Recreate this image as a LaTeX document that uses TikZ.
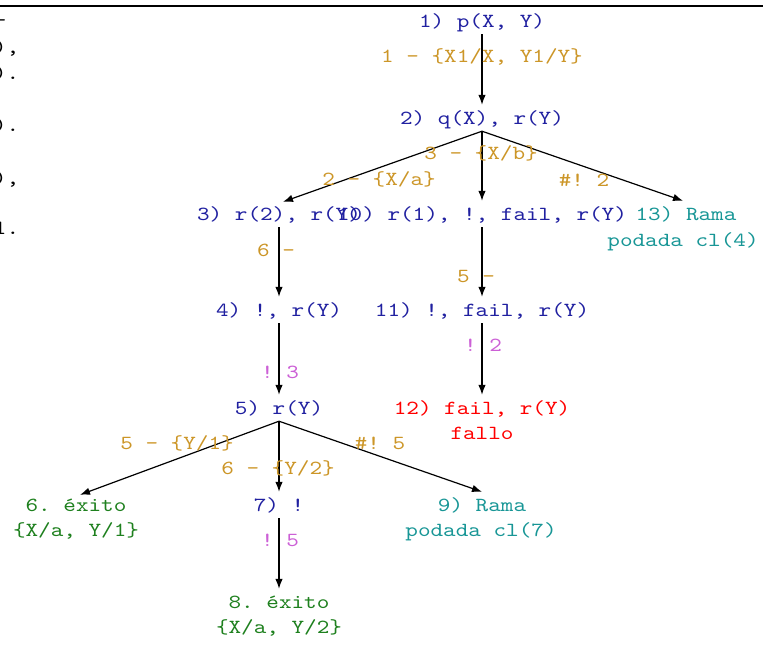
\documentclass[tikz,border=0pt]{standalone}
\usepackage{fontspec}
\setmonofont[FakeStretch=1.2]{lmmono10-regular.otf}
\usetikzlibrary{arrows.meta}

\definecolor{goalblue}{RGB}{32,32,160}
\definecolor{subst}{RGB}{204,150,40}
\definecolor{cutmark}{RGB}{204,96,214}
\definecolor{success}{RGB}{30,128,30}
\definecolor{pruned}{RGB}{24,150,150}
\definecolor{failure}{RGB}{255,0,0}

\begin{document}
\begin{tikzpicture}[x=1pt,y=-1pt,
  every node/.style={font=\ttfamily\fontsize{20}{26}\selectfont,
    inner sep=0pt, text height=12pt, text depth=0pt},
  goal/.style={text=goalblue, inner ysep=7pt},
  okleaf/.style={text=success, inner ysep=7pt},
  cutleaf/.style={text=pruned, inner ysep=7pt},
  failleaf/.style={text=failure, inner ysep=7pt},
  sublabel/.style={text=subst},
  cutlabel/.style={text=cutmark},
  edge/.style={line width=1.2pt, -{Latex[length=10pt,width=7.5pt]}},
  margin/.style={text=black, anchor=west}
]
\useasboundingbox (0,0) rectangle (763,646);

% rule across the top
\draw[line width=1.8pt] (0,6) -- (763,6);

% tail ends of text cut off by the left edge
\node[margin] (m1) at (-6.3,20) {-};
\node[margin] (m2) at (-6.3,47) {),};
\node[margin] (m3) at (-6.3,73) {).};
\node[margin] (m4) at (-6.3,125) {).};
\node[margin] (m5) at (-6.3,178) {),};
\node[margin] (m6) at (-6.3,228) {1.};

% goals of the resolution tree
\node[goal] (n1) at (482,21) {1) p(X, Y)};
\node[goal] (n2) at (482,118) {2) q(X), r(Y)};
\node[goal] (n3) at (279,214) {3) r(2), r(Y)};
\node[goal] (n10) at (482,214) {10) r(1), !, fail, r(Y)};
\node[cutleaf] (n13a) at (686,214) {13) Rama};
\node[cutleaf] (n13b) at (683,240) {podada cl(4)};
\node[goal] (n4) at (279,310) {4) !, r(Y)};
\node[goal] (n11) at (482,310) {11) !, fail, r(Y)};
\node[goal] (n5) at (279,408) {5) r(Y)};
\node[failleaf] (n12a) at (482,408) {12) fail, r(Y)};
\node[failleaf] (n12b) at (482,433) {fallo};
\node[okleaf] (n6a) at (76,505) {6. éxito};
\node[okleaf] (n6b) at (76,530) {\{X/a, Y/1\}};
\node[goal] (n7) at (279,505) {7) !};
\node[cutleaf] (n9a) at (482,505) {9) Rama};
\node[cutleaf] (n9b) at (481,530) {podada cl(7)};
\node[okleaf] (n8a) at (279,602) {8. éxito};
\node[okleaf] (n8b) at (279,627) {\{X/a, Y/2\}};

% derivation steps
\draw[edge] (n1.south) -- (n2.north);
\draw[edge] (n2.south) -- ([xshift=4pt,yshift=-1pt]n3.north);
\draw[edge] (n2.south) -- (n10.north);
\draw[edge] (n2.south) -- ([xshift=-3pt]n13a.north);
\draw[edge] (n3.south) -- (n4.north);
\draw[edge] (n10.south) -- (n11.north);
\draw[edge] (n4.south) -- (n5.north);
\draw[edge] (n11.south) -- (n12a.north);
\draw[edge] (n5.south) -- ([xshift=4pt,yshift=-3pt]n6a.north);
\draw[edge] (n5.south) -- (n7.north);
\draw[edge] (n5.south) -- (n9a.north);
\draw[edge] (n7.south) -- (n8a.north);

% clause numbers and substitutions
\node[sublabel] (l12) at (482,56) {1 - \{X1/X, Y1/Y\}};
\node[sublabel] (l23) at (379,179) {2 - \{X/a\}};
\node[sublabel] (l210) at (481,153) {3 - \{X/b\}};
\node[sublabel] (l213) at (584,180) {\#! 2};
\node[sublabel] (l34) at (276,250) {6 -};
\node[sublabel] (l1011) at (476,276) {5 -};
\node[cutlabel] (l45) at (280,372) {! 3};
\node[cutlabel] (l1112) at (483,345) {! 2};
\node[sublabel] (l56) at (177,443) {5 - \{Y/1\}};
\node[sublabel] (l57) at (278,468) {6 - \{Y/2\}};
\node[sublabel] (l59) at (380,443) {\#! 5};
\node[cutlabel] (l78) at (280,540) {! 5};
\end{tikzpicture}
\end{document}
